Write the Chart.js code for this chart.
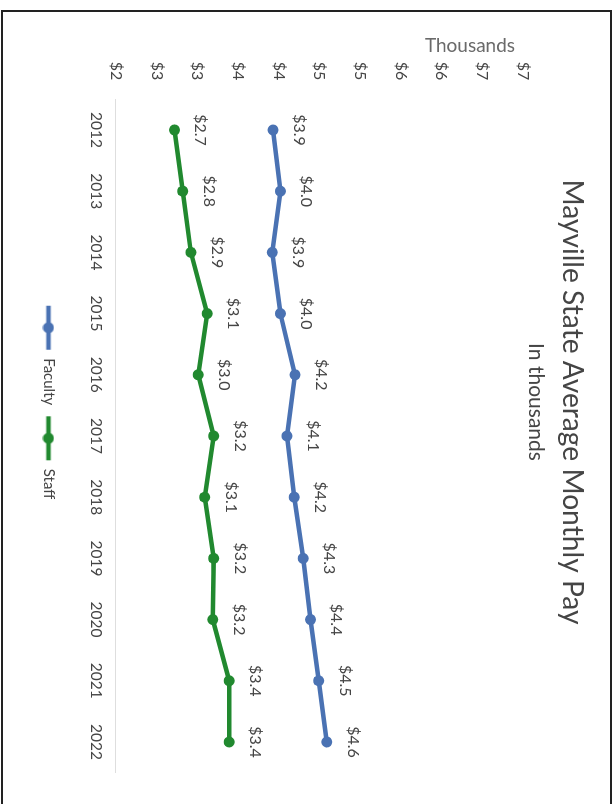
<!DOCTYPE html>
<html>
<head>
<meta charset="utf-8">
<title>Mayville State Average Monthly Pay</title>
<script src="https://cdn.jsdelivr.net/npm/chart.js@4.4.1/dist/chart.umd.min.js"></script>
<style>
  html, body { margin: 0; padding: 0; background: #fff; }
  body { width: 616px; height: 804px; position: relative; overflow: hidden; }
  /* scanned page edge */
  .frame { position: absolute; left: 1px; top: 10px; width: 607px; height: 820px; border: 2px solid #222; }
  /* the page was scanned sideways: draw the chart upright, then turn it 90deg clockwise */
  .turned { position: absolute; left: 0; top: 0; width: 804px; height: 616px;
            transform-origin: 0 0; transform: translate(616px, 0) rotate(90deg); }
</style>
</head>
<body>
<div class="frame"></div>
<div class="turned"><canvas id="pay" width="804" height="616"></canvas></div>
<script>
// data
const years = ['2012', '2013', '2014', '2015', '2016', '2017', '2018', '2019', '2020', '2021', '2022'];
const faculty = [3.93, 4.02, 3.92, 4.02, 4.20, 4.10, 4.19, 4.30, 4.39, 4.49, 4.59];
const staff = [2.72, 2.82, 2.92, 3.12, 3.01, 3.20, 3.09, 3.20, 3.19, 3.39, 3.39];
const valueTickLabels = ['$2', '$3', '$3', '$4', '$4', '$5', '$5', '$6', '$6', '$7', '$7'];

const blue = '#4a72b3';
const green = '#21892f';
const textGrey = '#454545';

Chart.defaults.font.family = 'Lato';

// legend symbol: short line with a marker on it
function swatch(color) {
  const c = document.createElement('canvas');
  c.width = 46; c.height = 12;
  const g = c.getContext('2d');
  g.strokeStyle = color;
  g.lineWidth = 4.5;
  g.beginPath(); g.moveTo(1, 6); g.lineTo(45, 6); g.stroke();
  g.fillStyle = color;
  g.beginPath(); g.arc(23, 6, 5.5, 0, Math.PI * 2); g.fill();
  return c;
}
const swatches = [swatch(blue), swatch(green)];

// value labels above each point
const pointLabels = {
  id: 'pointLabels',
  afterDatasetsDraw(chart) {
    const ctx = chart.ctx;
    ctx.save();
    ctx.font = '16px Lato';
    ctx.fillStyle = textGrey;
    ctx.textAlign = 'center';
    ctx.textBaseline = 'middle';
    chart.data.datasets.forEach((ds, i) => {
      chart.getDatasetMeta(i).data.forEach((pt, j) => {
        ctx.fillText('$' + ds.data[j].toFixed(1), pt.x, pt.y - 26);
      });
    });
    ctx.restore();
  }
};

// "Thousands" display-units label beside the value axis
const unitsLabel = {
  id: 'unitsLabel',
  afterDraw(chart) {
    const ctx = chart.ctx;
    ctx.save();
    ctx.translate(46, chart.chartArea.top + 53);
    ctx.rotate(-Math.PI / 2);
    ctx.font = '19px Lato';
    ctx.fillStyle = '#6a6a6a';
    ctx.textAlign = 'center';
    ctx.textBaseline = 'middle';
    ctx.fillText('Thousands', 0, 0);
    ctx.restore();
  }
};

new Chart(document.getElementById('pay'), {
  type: 'line',
  data: {
    labels: years,
    datasets: [
      {
        label: 'Faculty', data: faculty,
        borderColor: blue, backgroundColor: blue, borderWidth: 4.5,
        pointRadius: 5.5, pointBackgroundColor: blue, pointBorderWidth: 0
      },
      {
        label: 'Staff', data: staff,
        borderColor: green, backgroundColor: green, borderWidth: 4.5,
        pointRadius: 5.5, pointBackgroundColor: green, pointBorderWidth: 0
      }
    ]
  },
  options: {
    responsive: false,
    animation: false,
    events: [],
    layout: { padding: { left: 0, right: 0, top: 0, bottom: 31 } },
    scales: {
      x: {
        offset: true,
        grid: { display: false, drawTicks: false },
        border: { display: true, color: '#dedede', width: 1, dash: [2, 2] },
        ticks: { color: textGrey, font: { size: 15.5 }, padding: 11, maxRotation: 0 },
        afterFit(scale) { scale.height = 50; }
      },
      y: {
        min: 2, max: 7,
        grid: { display: false, drawTicks: false },
        border: { display: false },
        ticks: {
          stepSize: 0.5,
          color: textGrey,
          font: { size: 16 },
          padding: 19,
          callback: (v, i) => valueTickLabels[i]
        },
        afterFit(scale) { scale.width = 99.4; }
      },
      // empty strip on the far side so title and legend stay centred on the page
      yPad: {
        position: 'right',
        min: 2, max: 7,
        grid: { display: false, drawTicks: false },
        border: { display: false },
        ticks: { display: false },
        afterFit(scale) { scale.width = 31.4; }
      }
    },
    plugins: {
      title: {
        display: true,
        text: 'Mayville State Average Monthly Pay',
        color: textGrey,
        font: { size: 28.2, weight: 'normal' },
        padding: { top: 27, bottom: 0 }
      },
      subtitle: {
        display: true,
        text: 'In thousands',
        color: textGrey,
        font: { size: 21 },
        padding: { top: 7, bottom: 0 }
      },
      legend: {
        position: 'bottom',
        labels: {
          usePointStyle: true,
          pointStyleWidth: 46,
          boxHeight: 12,
          padding: 10,
          color: textGrey,
          font: { size: 15 },
          generateLabels(chart) {
            const items = Chart.defaults.plugins.legend.labels.generateLabels(chart);
            items.forEach((it, i) => { it.pointStyle = swatches[i]; });
            return items;
          }
        }
      },
      tooltip: { enabled: false }
    }
  },
  plugins: [pointLabels, unitsLabel]
});
</script>
</body>
</html>
